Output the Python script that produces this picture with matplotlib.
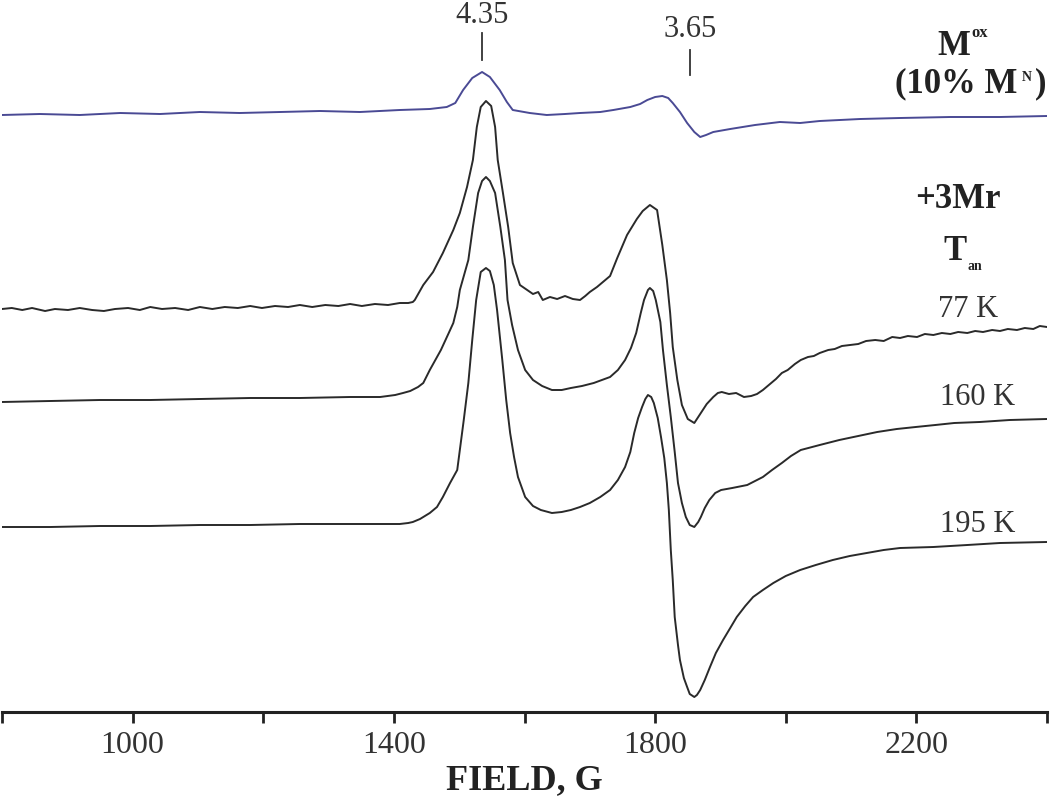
import matplotlib
matplotlib.use("Agg")
import matplotlib.pyplot as plt

plt.rcParams['font.family'] = ['Liberation Serif', 'DejaVu Serif']

# --- spectra (field in G, intensity in arbitrary units, stacked) ---
field_ox = [800, 858, 919, 981, 1042, 1103, 1164, 1226, 1287, 1348,
            1409, 1455, 1481, 1494, 1506, 1520, 1535, 1547, 1562, 1573,
            1582, 1608, 1634, 1662, 1685, 1716, 1736, 1762, 1777, 1788,
            1800, 1811, 1820, 1827, 1838, 1849, 1860, 1869, 1878, 1889,
            1915, 1953, 1991, 2022, 2052, 2114, 2175, 2252, 2328, 2400]
int_ox = [597, 598, 597, 599, 598, 600, 599, 600, 601, 600,
          602, 603, 605, 609, 622, 634, 640, 635, 622, 610,
          602, 599, 597, 598, 599, 600, 602, 605, 608, 612,
          615, 616, 614, 609, 600, 589, 580, 575, 577, 580,
          583, 587, 590, 589, 591, 593, 594, 595, 595, 596]

field_77 = [800, 815, 831, 846, 866, 881, 901, 919, 938, 956,
            973, 993, 1011, 1027, 1045, 1065, 1085, 1103, 1122, 1141,
            1161, 1180, 1198, 1218, 1238, 1256, 1275, 1295, 1315, 1333,
            1351, 1371, 1391, 1409, 1422, 1429,
            1432, 1445, 1460, 1475, 1491, 1501, 1512, 1521, 1527, 1533,
            1541, 1549, 1555, 1559, 1567, 1575, 1582, 1593, 1604, 1613, 1621, 1628,
            1639, 1650, 1662, 1674, 1685, 1693, 1700, 1711, 1720, 1731,
            1742, 1757, 1772, 1781, 1792, 1803, 1811, 1818, 1823, 1827,
            1834, 1841, 1850, 1860, 1870, 1879, 1889, 1896, 1902, 1913, 1924, 1936,
            1947, 1956, 1965, 1976, 1985, 1994, 2003, 2014, 2023, 2034,
            2043, 2052, 2065, 2075, 2086, 2098, 2111, 2123, 2137, 2150,
            2163, 2175, 2187, 2201, 2213, 2226, 2239, 2252, 2264, 2278,
            2290, 2302, 2316, 2328, 2340, 2354, 2366, 2379, 2389, 2400]
int_77 = [403, 404, 402, 404, 401, 403, 402, 404, 402, 401,
          403, 404, 402, 405, 403, 404, 402, 405, 403, 405,
          404, 406, 404, 406, 405, 407, 405, 407, 406, 408,
          406, 408, 407, 409, 409, 410,
          412, 427, 440, 459, 482, 499, 525, 552, 585, 605,
          611, 606, 585, 552, 519, 485, 449, 427, 422, 418, 420, 412,
          415, 413, 416, 413, 412, 416, 420, 425, 430, 436,
          454, 477, 493, 501, 507, 502, 467, 432, 399, 365,
          332, 307, 293, 289, 299, 308, 315, 319, 320, 318, 319, 315,
          316, 318, 322, 328, 333, 339, 342, 348, 352, 355,
          356, 359, 362, 363, 366, 367, 368, 371, 372, 371,
          375, 374, 376, 375, 378, 377, 379, 378, 380, 379,
          381, 380, 382, 381, 383, 382, 384, 383, 386, 385]

field_160 = [800, 874, 950, 1027, 1103, 1180, 1256, 1333, 1379, 1402,
             1414, 1425, 1437, 1445, 1455, 1472, 1484, 1491, 1497, 1501,
             1514, 1521, 1529, 1535, 1541, 1547, 1555, 1563, 1570, 1574,
             1581, 1590, 1601, 1613, 1627, 1642, 1657, 1671, 1688, 1706,
             1731, 1743, 1754, 1763, 1771, 1778, 1783, 1789, 1792, 1797,
             1801, 1808, 1812, 1818, 1824, 1830, 1835, 1841, 1847, 1853,
             1860, 1866, 1870, 1876, 1883, 1892, 1901, 1918, 1941, 1953,
             1965, 1979, 1994, 2008, 2023, 2052, 2082, 2111, 2140, 2170,
             2199, 2229, 2258, 2297, 2343, 2400]
int_160 = [310, 311, 312, 312, 313, 314, 314, 315, 315, 317,
           319, 321, 325, 329, 342, 362, 379, 389, 405, 422,
           452, 485, 519, 531, 535, 531, 519, 485, 452, 412,
           387, 362, 342, 332, 326, 322, 322, 324, 326, 329,
           335, 342, 352, 364, 379, 399, 412, 422, 424, 421,
           412, 390, 362, 327, 295, 260, 229, 209, 195, 187,
           185, 190, 195, 204, 212, 219, 222, 224, 227, 231,
           235, 242, 249, 256, 262, 267, 272, 276, 280, 283,
           285, 287, 289, 290, 292, 293]

field_195 = [800, 874, 950, 1027, 1103, 1180, 1256, 1333, 1409, 1422,
             1429, 1440, 1455, 1466, 1475, 1486, 1497, 1501, 1507, 1514,
             1520, 1526, 1533, 1541, 1547, 1553, 1558, 1566, 1572, 1578,
             1584, 1590, 1601, 1613, 1625, 1642, 1657, 1671, 1685, 1700,
             1716, 1731, 1743, 1754, 1762, 1768, 1774, 1780, 1785, 1789,
             1794, 1798, 1804, 1809, 1814, 1818, 1821, 1824, 1827, 1830,
             1835, 1838, 1844, 1849, 1853, 1860, 1864, 1869, 1876, 1884,
             1893, 1904, 1915, 1925, 1938, 1950, 1965, 1981, 2000, 2022,
             2046, 2072, 2098, 2124, 2150, 2175, 2226, 2278, 2328, 2400]
int_195 = [185, 185, 186, 186, 187, 187, 188, 188, 188, 189,
           190, 193, 199, 205, 215, 229, 242, 262, 292, 329,
           372, 412, 440, 444, 441, 427, 402, 352, 312, 279,
           255, 235, 215, 206, 202, 199, 200, 202, 205, 209,
           215, 222, 232, 245, 260, 279, 294, 305, 313, 317,
           315, 309, 294, 275, 254, 229, 202, 162, 132, 95,
           67, 52, 34, 25, 18, 15, 17, 22, 32, 45,
           59, 72, 84, 95, 106, 115, 122, 129, 136, 142,
           147, 152, 156, 159, 162, 164, 165, 167, 169, 170]

# g-value markers
g_labels = ['4.35', '3.65']
g_fields = [1535, 1853]

temp_labels = ['77 K', '160 K', '195 K']

xticks = list(range(800, 2401, 200))
xtick_labels = [str(v) if (v - 1000) % 400 == 0 else '' for v in xticks]

fig = plt.figure(figsize=(10.5, 8.01), dpi=100)
ax = fig.add_axes([2 / 1050, 89 / 801, 1045 / 1050, 712 / 801])

line_kw = dict(lw=1.4, solid_joinstyle='round', solid_capstyle='round')
ax.plot(field_ox, int_ox, color='#4a4a94', **line_kw)
for f, y in [(field_77, int_77), (field_160, int_160), (field_195, int_195)]:
    ax.plot(f, y, color='#2a2a2a', **line_kw)

# g-value marks
ax.plot([g_fields[0]] * 2, [652, 679], color='#333333', lw=1.3)
ax.plot([g_fields[1]] * 2, [637, 662], color='#333333', lw=1.3)
ax.text(g_fields[0], 689, g_labels[0], ha='center', va='baseline', fontsize=22, color='#333333')
ax.text(g_fields[1], 675, g_labels[1], ha='center', va='baseline', fontsize=22, color='#333333')

# sample labels (small super/subscripts drawn separately)
bold = dict(fontweight='bold', color='#222222', va='baseline')
ax.text(2282, 657, 'M', ha='right', fontsize=25, **bold)
ax.text(2284, 675, 'ox', ha='left', fontsize=12, **bold)
ax.text(2355, 620, '(10% M', ha='right', fontsize=25, **bold)
ax.text(2361, 631, 'N', ha='left', fontsize=10, **bold)
ax.text(2381, 620, ')', ha='left', fontsize=25, **bold)
ax.text(2264, 504, '+3Mr', ha='center', fontsize=25, **bold)
ax.text(2277, 452, 'T', ha='right', fontsize=25, **bold)
ax.text(2279, 442, 'an', ha='left', fontsize=10, **bold)

ax.text(2279, 395, temp_labels[0], ha='center', va='baseline', fontsize=22, color='#333333')
ax.text(2294, 307, temp_labels[1], ha='center', va='baseline', fontsize=22, color='#333333')
ax.text(2294, 180, temp_labels[2], ha='center', va='baseline', fontsize=22, color='#333333')

ax.set_xlim(800, 2400)
ax.set_ylim(0, 712)
for s in ['left', 'top', 'right']:
    ax.spines[s].set_visible(False)
ax.spines['bottom'].set_linewidth(2.2)
ax.spines['bottom'].set_color('#222222')
ax.set_yticks([])
ax.set_xticks(xticks)
ax.set_xticklabels(xtick_labels)
ax.tick_params(axis='x', direction='out', length=8, width=2, color='#222222',
               labelsize=23, pad=6, labelcolor='#333333')
ax.set_xlabel('FIELD, G', fontsize=26, fontweight='bold', labelpad=3, color='#222222')

fig.savefig('out.png', dpi=100)
